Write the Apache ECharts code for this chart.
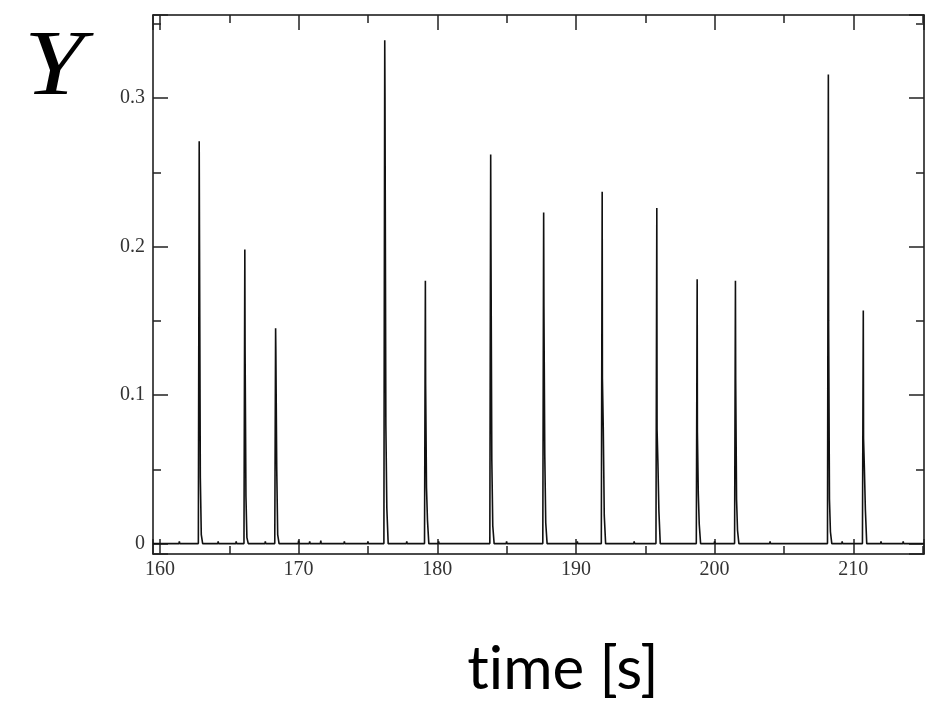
<!DOCTYPE html>
<html>
<head>
<meta charset="utf-8">
<script src="https://cdn.jsdelivr.net/npm/echarts@6/dist/echarts.min.js"></script>
<style>html,body{margin:0;padding:0;background:#fff}#c{width:937px;height:708px}</style>
</head>
<body>
<div id="c"></div>
<script>
// spike times [s] and levels
var spikeTime     = [162.83, 166.12, 168.34, 176.21, 179.14, 183.85, 187.67, 191.89, 195.83, 198.74, 201.50, 208.20, 210.72];
var spikePeak     = [0.271, 0.198, 0.145, 0.339, 0.177, 0.262, 0.223, 0.237, 0.226, 0.178, 0.177, 0.316, 0.157];
var spikeUpper    = [0.214, 0.132, 0.129, 0.301, 0.108, 0.205, 0.161, 0.111, 0.077, 0.075, 0.111, 0.150, 0.071];
var spikeShoulder = [0.045, 0.032, 0.051, 0.080, 0.038, 0.057, 0.060, 0.077, 0.054, 0.034, 0.030, 0.030, 0.050];
var spikeFoot     = [0.006, 0.004, 0.006, 0.024, 0.016, 0.012, 0.014, 0.019, 0.022, 0.013, 0.009, 0.008, 0.023];
// small baseline blips [time, value]
var noiseTime  = [160.1, 160.3, 160.5, 160.7, 161.4, 162.0, 163.6, 164.2, 164.9, 165.5, 167.1, 167.6, 169.3, 170.0, 170.8, 171.6, 172.4, 173.3, 174.2, 175.0, 177.0, 177.8, 180.1, 181.0, 182.1, 185.0, 186.2, 189.0, 190.1, 193.0, 194.2, 197.0, 197.9, 200.0, 203.1, 204.0, 205.3, 206.5, 209.2, 209.9, 212.0, 213.0, 213.6, 214.1, 214.5, 214.9];
var noiseValue = [0.001, -0.001, 0.001, -0.0008, 0.0015, 0.001, 0.001, 0.0015, 0.001, 0.0015, 0.001, 0.0015, 0.001, 0.002, 0.0015, 0.002, 0.001, 0.0015, 0.001, 0.0015, 0.001, 0.0015, 0.0015, 0.001, 0.001, 0.0015, 0.001, 0.001, 0.0015, 0.001, 0.0015, 0.0012, 0.001, 0.0015, 0.001, 0.0015, 0.001, 0.001, 0.0015, 0.001, 0.0015, 0.001, 0.0015, -0.001, 0.001, -0.0012];
var xTicks = ['160', '170', '180', '190', '200', '210'];
var yTicks = ['0', '0.1', '0.2', '0.3'];

var pts = [[159.5, 0], [215.1, 0]];
for (var i = 0; i < spikeTime.length; i++) {
  var t = spikeTime[i];
  pts.push([t - 0.06, 0]);
  pts.push([t, 0]);
  pts.push([t + 0.002, spikePeak[i]]);
  pts.push([t + 0.02, spikeUpper[i]]);
  pts.push([t + 0.08, spikeUpper[i]]);
  pts.push([t + 0.082, spikeShoulder[i]]);
  pts.push([t + 0.15, spikeShoulder[i]]);
  pts.push([t + 0.152, spikeFoot[i]]);
  pts.push([t + 0.24, spikeFoot[i]]);
  pts.push([t + 0.25, 0]);
}
for (var j = 0; j < noiseTime.length; j++) {
  pts.push([noiseTime[j] - 0.03, 0]);
  pts.push([noiseTime[j], noiseValue[j]]);
  pts.push([noiseTime[j] + 0.03, 0]);
}
pts.sort(function (a, b) { return a[0] - b[0]; });

var chart = echarts.init(document.getElementById('c'), null, {renderer: 'canvas'});
var tickFont = {fontFamily: 'Liberation Serif', fontSize: 20, color: '#333'};
function axisCommon(extra) {
  var o = {
    type: 'value',
    axisLine: {show: true, onZero: false, lineStyle: {color: '#111', width: 1.5}},
    axisTick: {show: true, inside: true, length: 15, lineStyle: {color: '#222', width: 1.5}},
    minorTick: {show: true, splitNumber: 2, length: 8, lineStyle: {color: '#222', width: 1.5}},
    splitLine: {show: false},
    minorSplitLine: {show: false}
  };
  for (var k in extra) o[k] = extra[k];
  return o;
}
var option = {
  animation: false,
  backgroundColor: '#fff',
  grid: {left: 153, right: 13, top: 15, bottom: 154},
  xAxis: [
    axisCommon({min: 159.5, max: 215.1, splitNumber: 5, position: 'bottom',
      axisLabel: Object.assign({show: true, margin: 6, showMinLabel: false, showMaxLabel: false,
        formatter: function (v) { var s = String(Math.round(v)); return xTicks.indexOf(s) >= 0 ? s : ''; }}, tickFont)}),
    axisCommon({min: 159.5, max: 215.1, splitNumber: 5, position: 'top', axisLabel: {show: false}})
  ],
  yAxis: [
    axisCommon({min: -0.007, max: 0.356, splitNumber: 4, position: 'left',
      axisLabel: Object.assign({show: true, margin: 8, showMinLabel: false, showMaxLabel: false,
        formatter: function (v) { var s = String(Math.round(v * 10) / 10); return yTicks.indexOf(s) >= 0 ? s : ''; }}, tickFont)}),
    axisCommon({min: -0.007, max: 0.356, splitNumber: 4, position: 'right', axisLabel: {show: false}})
  ],
  series: [{
    type: 'line',
    data: pts,
    showSymbol: false,
    symbol: 'none',
    sampling: null,
    lineStyle: {color: '#111', width: 1.6},
    xAxisIndex: 0,
    yAxisIndex: 0
  }],
  graphic: [
    {type: 'text', x: 24, y: 22, scaleX: 1.15, style: {text: 'Y', font: 'italic 94px "Liberation Serif"', fill: '#000'}},
    {type: 'text', x: 563, y: 640, style: {text: 't\u200Cime [s]', font: '60px Lato', fill: '#000', align: 'center'}}
  ]
};
chart.setOption(option);
</script>
</body>
</html>
